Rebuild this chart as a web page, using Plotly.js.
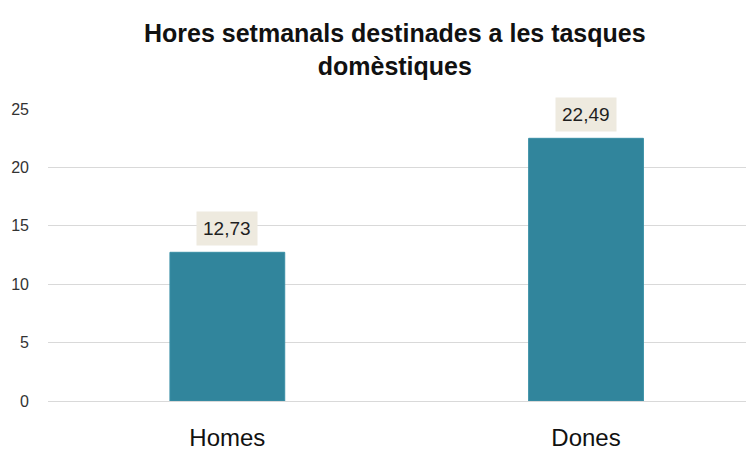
<!DOCTYPE html>
<html>
<head>
<meta charset="utf-8">
<script src="https://cdn.plot.ly/plotly-3.0.1.min.js"></script>
<style>html,body{margin:0;padding:0;background:#fff;}#chart{width:746px;height:452px;}</style>
</head>
<body>
<div id="chart"></div>
<script>
const categories = ["Homes", "Dones"];
const hours = [12.73, 22.49];
const valueLabels = ["12,73", "22,49"];
const yTicks = [0, 5, 10, 15, 20, 25];
const titleText = "<b>Hores setmanals destinades a les tasques<br>domèstiques</b>";

const FONT = "'Liberation Sans Narrow', 'Arial Narrow', 'Liberation Sans', Arial, sans-serif";

const trace = {
  type: "bar",
  x: categories,
  y: hours,
  width: 0.32,
  marker: { color: "#31859c", line: { color: "#3a8fa6", width: 1 } },
  hoverinfo: "none"
};

const annotations = categories.map((c, i) => ({
  x: c, y: hours[i], xref: "x", yref: "y",
  text: valueLabels[i],
  showarrow: false,
  yanchor: "bottom",
  yshift: 6,
  bgcolor: "#eeeadf",
  borderpad: 6,
  font: { family: FONT, size: 19, color: "#1f1f1f" }
}));

annotations.push({
  xref: "paper", yref: "paper",
  x: 0.497, y: 1.205,
  xanchor: "center", yanchor: "middle",
  text: titleText,
  showarrow: false,
  align: "center",
  font: { family: FONT, size: 25, color: "#111111" }
});

const layout = {
  width: 746, height: 452,
  margin: { l: 48, r: 0, t: 109, b: 51 },
  paper_bgcolor: "#ffffff",
  plot_bgcolor: "#ffffff",
  xaxis: {
    range: [-0.5, 1.446],
    tickfont: { family: FONT, size: 24, color: "#111111" },
    ticks: "", showline: false, showgrid: false, zeroline: false,
    ticklabelstandoff: 20,
    fixedrange: true
  },
  yaxis: {
    range: [0, 25],
    tickvals: yTicks,
    ticktext: yTicks.map(String),
    tickfont: { family: FONT, size: 16, color: "#333333" },
    gridcolor: "#d9d9d9", gridwidth: 1,
    zeroline: true, zerolinecolor: "#d9d9d9", zerolinewidth: 1,
    showline: false, ticks: "", ticklabelstandoff: 18,
    fixedrange: true
  },
  annotations: annotations,
  showlegend: false,
  bargap: 0
};

Plotly.newPlot("chart", [trace], layout, { displayModeBar: false, staticPlot: true });
</script>
</body>
</html>
